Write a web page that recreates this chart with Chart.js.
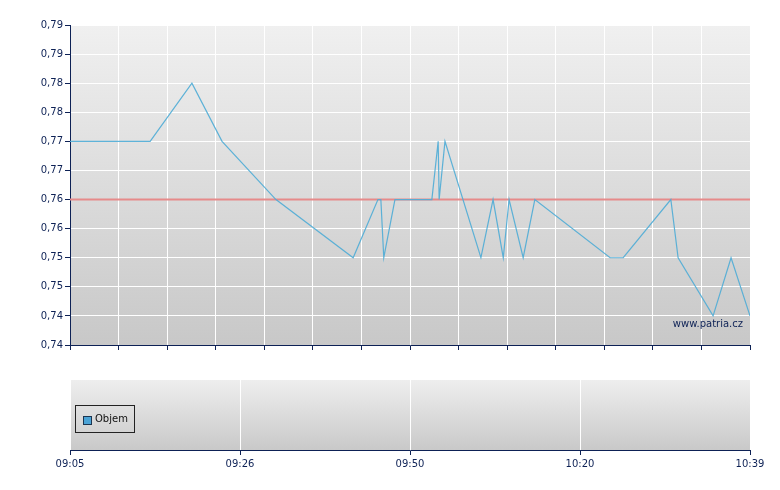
<!DOCTYPE html>
<html>
<head>
<meta charset="utf-8">
<script src="https://cdn.jsdelivr.net/npm/chart.js@4/dist/chart.umd.min.js"></script>
<style>
html,body{margin:0;padding:0;background:#fff;width:780px;height:490px;overflow:hidden;font-family:"DejaVu Sans",sans-serif;}
#c1{position:absolute;left:0;top:0;}
#c2{position:absolute;left:0;top:360px;}
#legend{position:absolute;left:75px;top:405px;width:60px;height:28px;border:1px solid #222;box-sizing:border-box;font-size:10px;color:#111;}
#legend .sq{position:absolute;left:7px;top:10px;width:7px;height:7px;background:#4aa3d6;border:1px solid #1c3550;}
#legend .tx{position:absolute;left:19px;top:7px;}
</style>
</head>
<body>
<canvas id="c1" width="780" height="360"></canvas>
<canvas id="c2" width="780" height="130"></canvas>
<div id="legend"><div class="sq"></div><div class="tx">Objem</div></div>
<script>
// ---- data (x = trade position along the session axis, 0..140) ----
const tradeIndex = [0, 16.5, 25.1, 31.3, 42.4, 58.3, 63.4, 64.0, 64.6, 66.9, 74.5, 75.8, 76.0, 77.2, 84.6, 87.1, 89.2, 90.4, 93.3, 95.7, 111.2, 113.9, 123.7, 125.2, 132.4, 136.1, 140];
const prices     = [0.775, 0.775, 0.785, 0.775, 0.765, 0.755, 0.765, 0.765, 0.755, 0.765, 0.765, 0.775, 0.765, 0.775, 0.755, 0.765, 0.755, 0.765, 0.755, 0.765, 0.755, 0.755, 0.765, 0.755, 0.745, 0.755, 0.745];
const referencePrice = 0.765;
const yTickValues = [0.740, 0.745, 0.750, 0.755, 0.760, 0.765, 0.770, 0.775, 0.780, 0.785, 0.790, 0.795];
const yTickLabels = ['0,74', '0,74', '0,75', '0,75', '0,76', '0,76', '0,77', '0,77', '0,78', '0,78', '0,79', '0,79'];
const xTickPositions = [0, 35, 70, 105, 140];
const xTickLabels = ['09:05', '09:26', '09:50', '10:20', '10:39'];
const volumeLabel = 'Objem';
const watermark = 'www.patria.cz';

const NAVY = '#0d2155';
const FONT = {family: 'DejaVu Sans', size: 10};

function bgPlugin(top, bottom) {
  return {
    id: 'bg',
    beforeDraw(chart) {
      const a = chart.chartArea, ctx = chart.ctx;
      const g = ctx.createLinearGradient(0, a.top, 0, a.bottom);
      g.addColorStop(0, top);
      g.addColorStop(1, bottom);
      ctx.save();
      ctx.fillStyle = g;
      ctx.fillRect(a.left, a.top, a.right - a.left, a.bottom - a.top);
      ctx.restore();
    }
  };
}

const watermarkPlugin = {
  id: 'wm',
  afterDatasetsDraw(chart) {
    const a = chart.chartArea, ctx = chart.ctx;
    ctx.save();
    ctx.font = '10px "DejaVu Sans"';
    ctx.fillStyle = NAVY;
    ctx.textAlign = 'right';
    ctx.textBaseline = 'alphabetic';
    ctx.fillText(watermark, a.right - 7, a.bottom - 18);
    ctx.restore();
  }
};

const pricePoints = tradeIndex.map((x, i) => ({x: x, y: prices[i]}));

new Chart(document.getElementById('c1'), {
  type: 'line',
  data: {
    datasets: [
      {
        data: [{x: 0, y: referencePrice}, {x: 140, y: referencePrice}],
        borderColor: '#e68a8a', borderWidth: 2, pointRadius: 0, tension: 0, order: 2
      },
      {
        data: pricePoints,
        borderColor: 'rgba(80,172,214,0.92)', borderWidth: 1.2, pointRadius: 0, tension: 0, order: 1
      }
    ]
  },
  options: {
    responsive: false, animation: false, devicePixelRatio: 1,
    layout: {padding: {top: 25, right: 30, left: 0, bottom: 0}},
    plugins: {legend: {display: false}, tooltip: {enabled: false}},
    scales: {
      x: {
        type: 'linear', min: 0, max: 140,
        afterBuildTicks(s) { s.ticks = []; for (let v = 0; v <= 140; v += 10) s.ticks.push({value: v}); },
        afterFit(s) { s.height = 15; },
        ticks: {display: false},
        grid: {color: '#ffffff', lineWidth: 1, tickLength: 5, tickColor: NAVY, drawTicks: true},
        border: {color: NAVY, width: 1}
      },
      y: {
        type: 'linear', min: 0.74, max: 0.795,
        afterBuildTicks(s) { s.ticks = yTickValues.map(v => ({value: v})); },
        afterFit(s) { s.width = 70; },
        ticks: {
          font: FONT, color: NAVY, padding: 2, autoSkip: false,
          callback: (v, i) => yTickLabels[i]
        },
        grid: {color: '#ffffff', lineWidth: 1, tickLength: 5, tickColor: NAVY},
        border: {color: NAVY, width: 1}
      }
    }
  },
  plugins: [bgPlugin('#f0f0f0', '#c8c8c8'), watermarkPlugin]
});

new Chart(document.getElementById('c2'), {
  type: 'line',
  data: {datasets: [{label: volumeLabel, data: [], borderColor: '#4aa3d6', backgroundColor: '#4aa3d6'}]},
  options: {
    responsive: false, animation: false, devicePixelRatio: 1,
    layout: {padding: {top: 20, right: 30, left: 70, bottom: 0}},
    plugins: {legend: {display: false}, tooltip: {enabled: false}},
    scales: {
      x: {
        type: 'linear', min: 0, max: 140, offset: false,
        afterBuildTicks(s) { s.ticks = xTickPositions.map(v => ({value: v})); },
        afterFit(s) { s.height = 40; },
        ticks: {
          font: FONT, color: NAVY, padding: 3, autoSkip: false, maxRotation: 0,
          callback: (v, i) => xTickLabels[i]
        },
        grid: {color: '#ffffff', lineWidth: 1, tickLength: 5, tickColor: NAVY, offset: false},
        border: {color: NAVY, width: 1}
      },
      y: {display: false, min: 0, max: 1}
    }
  },
  plugins: [bgPlugin('#eeeeee', '#c9c9c9')]
});
</script>
</body>
</html>
